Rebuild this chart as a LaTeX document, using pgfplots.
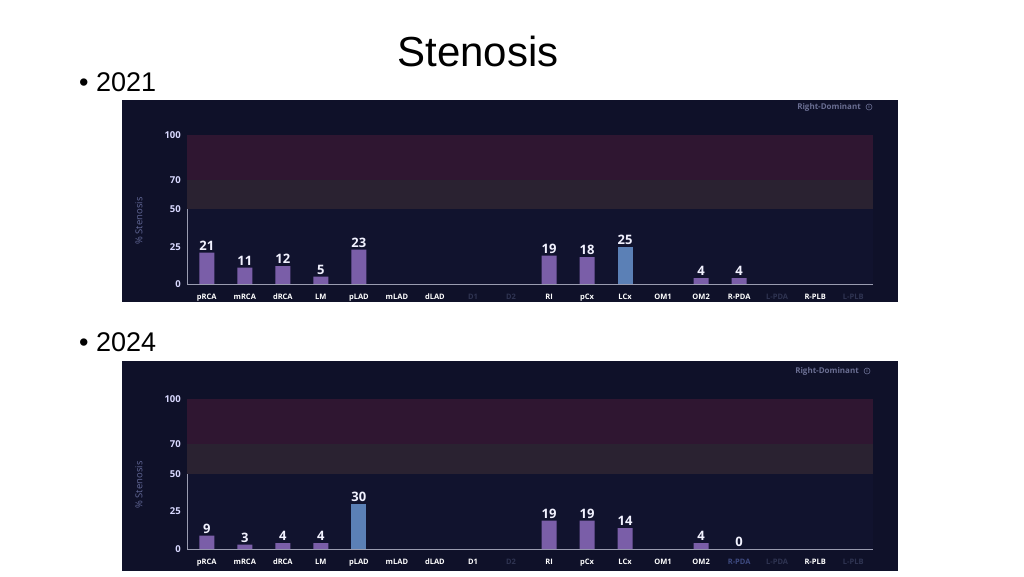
\documentclass[border=0pt]{standalone}
\usepackage{pgfplots}
\pgfplotsset{compat=1.18}
\usepackage{fontspec}
\setmainfont{Liberation Sans}
\newfontfamily\chartfont{Open Sans}
\definecolor{panelbg}{HTML}{0F1129}
\definecolor{plotbg}{HTML}{11132E}
\definecolor{bandhi}{HTML}{2F1631}
\definecolor{bandmid}{HTML}{2A2231}
\definecolor{barpurple}{HTML}{7A5EA8}
\definecolor{barblue}{HTML}{5B80B6}
\definecolor{dimlab}{HTML}{2F3452}
\definecolor{dimblue}{HTML}{3E4A80}
\definecolor{axisgray}{HTML}{9A9CB0}
\definecolor{ylabcol}{HTML}{626897}
\definecolor{rdcol}{HTML}{6A6E92}

\pgfplotsset{
  stenosis/.style={
    scale only axis, width=686pt, height=149pt,
    anchor=south west,
    xmin=-0.52, xmax=17.52, ymin=0, ymax=100,
    axis line style={draw=none},
    major tick style={draw=none},
    xtick={0,...,17},
    ytick={0,25,50,70,100},
    xticklabel style={font=\chartfont\bfseries\fontsize{7.5}{8}\selectfont, text=white, inner sep=0pt, text height=5.5pt, text depth=0pt, yshift=-5.5pt},
    yticklabel style={font=\chartfont\bfseries\fontsize{9.5}{10}\selectfont, text=white!85!blue, inner sep=0pt, xshift=-6pt},
    /pgf/number format/assume math mode=true,
    ybar, bar width=15pt, bar shift=0pt,
    nodes near coords,
    every node near coord/.append style={font=\chartfont\bfseries\fontsize{13}{13}\selectfont, text=white!95!blue, inner sep=2pt},
    clip=false,
  }
}

\begin{document}
\begin{tikzpicture}
\path[use as bounding box, fill=white] (0pt,0pt) rectangle (1024pt,576pt);
% title and bullets
\node[anchor=base] at (478pt,509pt) {\fontsize{42}{46}\selectfont Stenosis};
\node[anchor=base west, inner sep=0pt] at (79pt,484pt) {\fontsize{27}{30}\selectfont \textbullet\ 2021};
\node[anchor=base west, inner sep=0pt] at (79pt,225pt) {\fontsize{27}{30}\selectfont \textbullet\ 2024};

% panels
\fill[panelbg] (122pt,274pt) rectangle (898pt,476pt);
\fill[panelbg] (122pt,5pt) rectangle (898pt,215pt);

% ---------- 2021 ----------
\begin{axis}[stenosis, at={(187pt,292pt)},
  xticklabels={pRCA,mRCA,dRCA,LM,pLAD,mLAD,dLAD,\textcolor{dimlab}{D1},\textcolor{dimlab}{D2},RI,pCx,LCx,OM1,OM2,R-PDA,\textcolor{dimlab}{L-PDA},R-PLB,\textcolor{dimlab}{L-PLB}}]
\fill[plotbg] (axis cs:-0.52,0) rectangle (axis cs:17.52,50);
\fill[bandmid] (axis cs:-0.52,50) rectangle (axis cs:17.52,70);
\fill[bandhi] (axis cs:-0.52,70) rectangle (axis cs:17.52,100);
\draw[axisgray, line width=0.8pt] (axis cs:-0.52,50) -- (axis cs:-0.52,0) -- (axis cs:17.52,0);
\addplot[fill=barpurple, draw=none] coordinates {(0,21) (1,11) (2,12) (3,5) (4,23) (9,19) (10,18) (13,4) (14,4)};
\addplot[fill=barblue, draw=none] coordinates {(11,25)};
\end{axis}
\node[rotate=90, text=ylabcol, font=\chartfont\fontsize{9.5}{10}\selectfont] at (139pt,355pt) {\% Stenosis};
\node[anchor=east, text=rdcol, font=\chartfont\bfseries\fontsize{8}{8}\selectfont, inner sep=0pt] at (861pt,469pt) {Right-Dominant};
\draw[rdcol, line width=0.6pt] (869pt,469pt) circle (3pt);
\node[text=rdcol, font=\chartfont\bfseries\fontsize{4.5}{5}\selectfont, inner sep=0pt] at (869pt,469pt) {i};

% ---------- 2024 ----------
\begin{axis}[stenosis, at={(187pt,27pt)}, height=150pt,
  xticklabels={pRCA,mRCA,dRCA,LM,pLAD,mLAD,dLAD,D1,\textcolor{dimlab}{D2},RI,pCx,LCx,OM1,OM2,\textcolor{dimblue}{R-PDA},\textcolor{dimlab}{L-PDA},R-PLB,\textcolor{dimlab}{L-PLB}}]
\fill[plotbg] (axis cs:-0.52,0) rectangle (axis cs:17.52,50);
\fill[bandmid] (axis cs:-0.52,50) rectangle (axis cs:17.52,70);
\fill[bandhi] (axis cs:-0.52,70) rectangle (axis cs:17.52,100);
\draw[axisgray, line width=0.8pt] (axis cs:-0.52,50) -- (axis cs:-0.52,0) -- (axis cs:17.52,0);
\addplot[fill=barpurple, draw=none] coordinates {(0,9) (1,3) (2,4) (3,4) (9,19) (10,19) (11,14) (13,4) (14,0)};
\addplot[fill=barblue, draw=none] coordinates {(4,30)};
\end{axis}
\node[rotate=90, text=ylabcol, font=\chartfont\fontsize{9.5}{10}\selectfont] at (139pt,91pt) {\% Stenosis};
\node[anchor=east, text=rdcol, font=\chartfont\bfseries\fontsize{8}{8}\selectfont, inner sep=0pt] at (859pt,205pt) {Right-Dominant};
\draw[rdcol, line width=0.6pt] (867pt,205pt) circle (3pt);
\node[text=rdcol, font=\chartfont\bfseries\fontsize{4.5}{5}\selectfont, inner sep=0pt] at (867pt,205pt) {i};
\end{tikzpicture}
\end{document}
